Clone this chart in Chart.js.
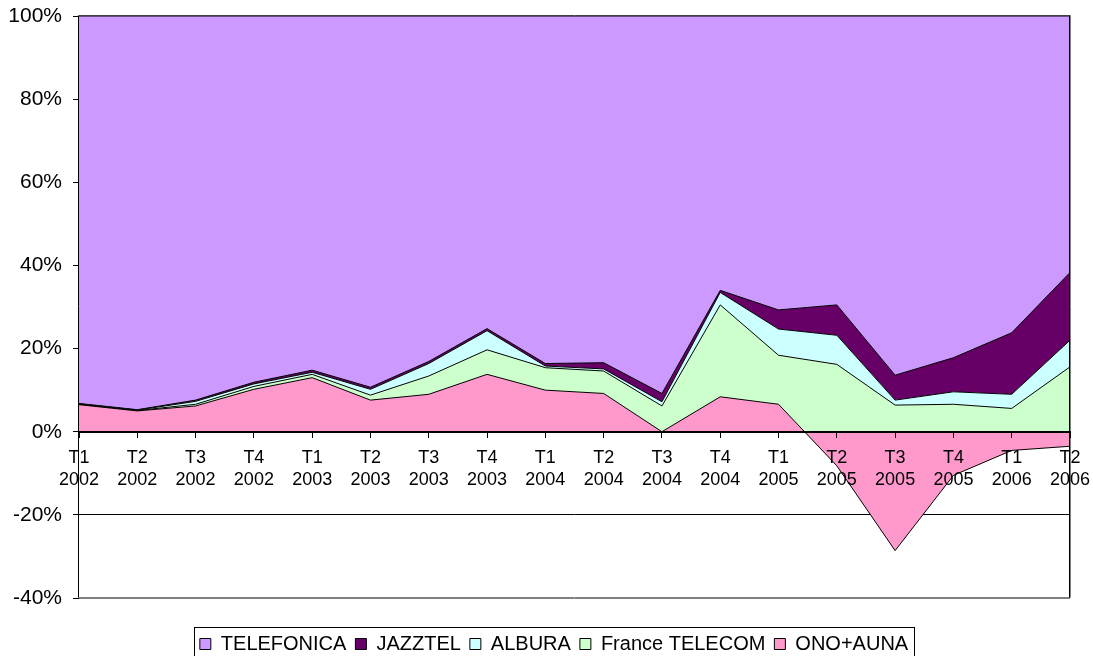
<!DOCTYPE html>
<html>
<head>
<meta charset="utf-8">
<script src="https://cdn.jsdelivr.net/npm/chart.js@4.4.1/dist/chart.umd.min.js"></script>
<style>
  html, body { margin: 0; padding: 0; background: #fff; }
  #wrap { width: 1093px; height: 656px; }
</style>
</head>
<body>
<div id="wrap"><canvas id="shareChart"></canvas></div>
<script>
// ----------------- DATA -----------------
var quarters = [
  ['T1', '2002'], ['T2', '2002'], ['T3', '2002'], ['T4', '2002'],
  ['T1', '2003'], ['T2', '2003'], ['T3', '2003'], ['T4', '2003'],
  ['T1', '2004'], ['T2', '2004'], ['T3', '2004'], ['T4', '2004'],
  ['T1', '2005'], ['T2', '2005'], ['T3', '2005'], ['T4', '2005'],
  ['T1', '2006'], ['T2', '2006']
];

// share in %, stacked bottom to top
var onoAuna       = [6.5, 5.0, 6.2, 10.2, 13.0, 7.6, 9.0, 13.8, 10.0, 9.2, 0.0, 8.4, 6.6, -8.2, -28.6, -10.5, -4.5, -3.5];
var franceTelecom = [0.1, 0.1, 0.4, 0.7, 0.8, 1.2, 4.4, 5.9, 5.4, 5.4, 6.2, 22.1, 11.8, 16.2, 6.4, 6.6, 5.6, 15.6];
var albura        = [0.1, 0.1, 0.7, 0.6, 0.5, 1.4, 3.0, 4.6, 0.4, 0.5, 1.0, 3.0, 6.3, 7.0, 1.2, 3.0, 3.4, 6.4];
var jazztel       = [0.1, 0.1, 0.3, 0.4, 0.5, 0.5, 0.5, 0.5, 0.6, 1.5, 2.0, 0.5, 4.6, 7.3, 6.0, 8.2, 14.8, 16.3];
var telefonica    = [93.2, 94.7, 92.4, 88.1, 85.2, 89.3, 83.1, 75.2, 83.6, 83.4, 90.8, 66.0, 70.7, 69.5, 86.4, 82.2, 76.2, 61.7];

var Y_MIN = -40;
var Y_MAX = 100;
var Y_STEP = 20;

var FONT = "'Liberation Sans', Arial, sans-serif";
var LEGEND_SHIFT = 19;

// ----------------- HELPERS -----------------
function makeSeries(label, data, color, fill) {
    return {
        label: label,
        data: data,
        backgroundColor: color,
        borderColor: '#000000',
        borderWidth: 1,
        pointRadius: 0,
        tension: 0,
        fill: fill
    };
}

// plot frame + legend frame (Excel look)
var framePlugin = {
    id: 'frame',
    afterLayout: function(chart) {
        // legend sits a bit right of centre in the original
        chart.legend.left += LEGEND_SHIFT;
        chart.legend.right += LEGEND_SHIFT;
    },
    afterDatasetsDraw: function(chart) {
        var a = chart.chartArea, c = chart.ctx;
        var l = Math.round(a.left) - 0.5, r = Math.round(a.right) - 0.5;
        var t = Math.round(a.top) - 0.5, b = Math.round(a.bottom) - 0.5;
        c.save();
        c.lineWidth = 1;
        c.strokeStyle = '#808080';
        c.beginPath();
        c.moveTo(l, b); c.lineTo(r + 1, b);
        c.moveTo(r + 1, t); c.lineTo(r + 1, b);
        c.stroke();
        c.strokeStyle = '#000000';
        c.beginPath();
        c.moveTo(r, t); c.lineTo(r, b);
        c.moveTo(l, t); c.lineTo(l, b);
        c.stroke();
        c.strokeStyle = '#404040';
        c.beginPath();
        c.moveTo(l, t); c.lineTo(r + 1, t);
        c.stroke();
        c.restore();
    },
    afterDraw: function(chart) {
        var hb = chart.legend.legendHitBoxes;
        if (!hb || !hb.length) return;
        var last = hb[hb.length - 1];
        var x0 = Math.round(hb[0].left) - 6;
        var x1 = Math.round(last.left + last.width) + 6;
        var y0 = Math.round(hb[0].top) - 7;
        var c = chart.ctx;
        c.save();
        c.lineWidth = 1;
        c.strokeStyle = '#000000';
        c.strokeRect(x0 + 0.5, y0 + 0.5, x1 - x0, 80);
        c.restore();
    }
};

// ----------------- CHART -----------------
var ctx = document.getElementById('shareChart');
var shareChart = new Chart(ctx, {
    type: 'line',
    data: {
        labels: quarters,
        datasets: [
            makeSeries('ONO+AUNA', onoAuna, '#FF99CC', 'origin'),
            makeSeries('France TELECOM', franceTelecom, '#CCFFCC', '-1'),
            makeSeries('ALBURA', albura, '#CCFFFF', '-1'),
            makeSeries('JAZZTEL', jazztel, '#660066', '-1'),
            makeSeries('TELEFONICA', telefonica, '#CC99FF', '-1')
        ]
    },
    options: {
        responsive: true,
        maintainAspectRatio: false,
        animation: false,
        layout: { padding: { top: 16, right: 23, left: 0, bottom: -8 } },
        scales: {
            x: {
                type: 'category',
                offset: false,
                position: { y: 0 },
                grid: { z: 1, drawOnChartArea: false, drawTicks: true, tickLength: 5, color: '#000000' },
                border: { z: 1, display: true, color: '#000000', width: 2 },
                ticks: {
                    z: 1,
                    autoSkip: false, maxRotation: 0, minRotation: 0,
                    color: '#000000', padding: 11,
                    font: { family: FONT, size: 18, lineHeight: 1.2 }
                },
                afterFit: function(s) { s.paddingLeft = 0; s.paddingRight = 0; }
            },
            spacer: {
                axis: 'x',
                type: 'category',
                position: 'bottom',
                grid: { display: false },
                border: { display: false },
                ticks: { display: false },
                afterFit: function(s) { s.height = 27; }
            },
            y: {
                stacked: true,
                min: Y_MIN,
                max: Y_MAX,
                ticks: {
                    stepSize: Y_STEP,
                    color: '#000000',
                    padding: 11,
                    font: { family: FONT, size: 21 },
                    callback: function(v) { return v + '%'; }
                },
                grid: {
                    color: function(c) { return c.tick && c.tick.value === Y_MIN ? '#808080' : '#000000'; },
                    tickColor: '#000000',
                    tickLength: 6
                },
                border: { display: false },
                afterFit: function(s) { s.width = 79; s.paddingTop = 0; s.paddingBottom = 0; }
            }
        },
        plugins: {
            legend: {
                position: 'bottom',
                reverse: true,
                labels: {
                    boxWidth: 11,
                    boxHeight: 11,
                    padding: 9,
                    color: '#000000',
                    font: { family: FONT, size: 20 }
                }
            },
            tooltip: { enabled: false }
        }
    },
    plugins: [framePlugin]
});
</script>
</body>
</html>
